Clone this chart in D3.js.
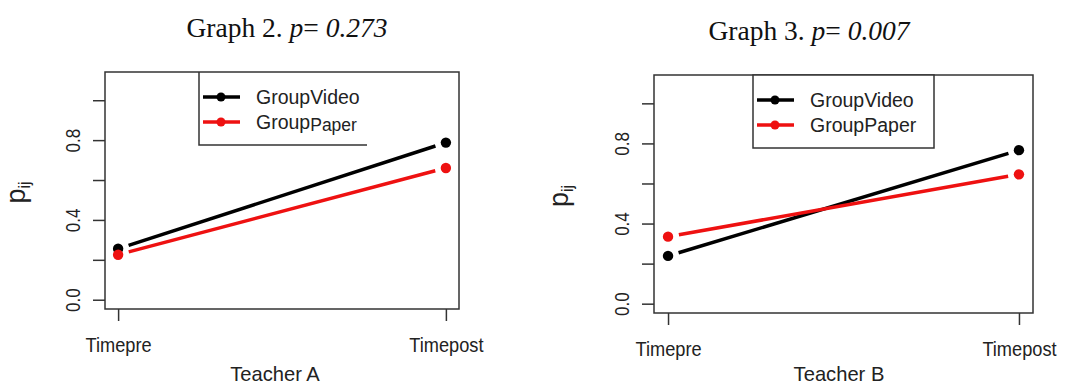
<!DOCTYPE html>
<html>
<head>
<meta charset="utf-8">
<script src="https://cdn.jsdelivr.net/npm/d3@7"></script>
<style>
  body { margin: 0; background: #fff; }
  svg { display: block; }
  .axis-text { font-family: "Liberation Sans", Arial, sans-serif; fill: #222; }
  .title { font-family: "Liberation Serif", "Times New Roman", serif; font-size: 27.5px; fill: #111; }
</style>
</head>
<body>
<div id="chart"></div>
<script>
// data
const timeLabels = ["Timepre", "Timepost"];
const groupNames = ["GroupVideo", "GroupPaper"];
const groupColors = ["#000000", "#ee1111"];
const teacherAVideo = [0.258, 0.790];
const teacherAPaper = [0.228, 0.663];
const teacherBVideo = [0.241, 0.769];
const teacherBPaper = [0.337, 0.648];
const yTicks = [0, 0.2, 0.4, 0.6, 0.8, 1.0];
const yLabelled = [0, 0.4, 0.8];
const titles = ["Graph 2.", "Graph 3."];
const pValues = ["0.273", "0.007"];
const teachers = ["Teacher A", "Teacher B"];

const W = 1075, H = 385;
const svg = d3.select('#chart').append('svg')
  .attr('width', W).attr('height', H);

// R's axis text is a bit narrower than Liberation Sans
function condense(sel, f) {
  sel.each(function() {
    const len = this.getComputedTextLength();
    if (len > 0) d3.select(this).attr('textLength', len * f).attr('lengthAdjust', 'spacingAndGlyphs');
  });
}

// panel layout (pixels)
const panels = [
  { left: 105, right: 459, top: 72, bottom: 309, titleX: 287, titleY: 37, xlabX: 275,
    ylabX: 25, legX: 199, legR: 367, legB: 145, fullLegend: false, shrinkPaper: true,
    series: [teacherAVideo, teacherAPaper] },
  { left: 654, right: 1033, top: 75, bottom: 313, titleX: 809, titleY: 40, xlabX: 839,
    ylabX: 568, legX: 753, legR: 934, legB: 148, fullLegend: true, shrinkPaper: false,
    series: [teacherBVideo, teacherBPaper] }
];

panels.forEach((p, i) => {
  const g = svg.append('g');

  // x: R style 4% padding around positions 1 and 2
  const x = d3.scaleLinear().domain([0.96, 2.04]).range([p.left, p.right]);
  const y = d3.scaleLinear().domain([-0.044, 1.144]).range([p.bottom, p.top]);

  // title
  const t = g.append('text').attr('class', 'title')
    .attr('x', p.titleX).attr('y', p.titleY).attr('text-anchor', 'middle');
  t.append('tspan').text(titles[i] + ' ');
  t.append('tspan').attr('font-style', 'italic').text('p');
  t.append('tspan').text('= ');
  t.append('tspan').attr('font-style', 'italic').text(pValues[i]);

  // y axis
  const yAxis = d3.axisLeft(y)
    .tickValues(yTicks)
    .tickSize(12)
    .tickFormat(d => yLabelled.indexOf(d) >= 0 ? d3.format('.1f')(d) : '');
  const ya = g.append('g').attr('transform', `translate(${p.left},0)`).call(yAxis);
  ya.select('.domain').remove();
  ya.selectAll('line').attr('stroke', '#333').attr('stroke-width', 1.5);
  ya.selectAll('.tick').attr('transform', null);
  ya.selectAll('.tick line').attr('transform', d => `translate(0,${y(d)})`);
  ya.selectAll('text')
    .attr('class', 'axis-text')
    .attr('font-size', 20)
    .attr('x', 0).attr('y', 0).attr('dy', 0)
    .attr('text-anchor', 'middle')
    .attr('transform', d => `translate(${-25},${y(d)}) rotate(-90)`)
    .call(condense, 0.85);

  // x axis
  const xAxis = d3.axisBottom(x)
    .tickValues([1, 2])
    .tickSize(12)
    .tickFormat((d, k) => timeLabels[k]);
  const xa = g.append('g').attr('transform', `translate(0,${p.bottom})`).call(xAxis);
  xa.select('.domain').remove();
  xa.selectAll('line').attr('stroke', '#333').attr('stroke-width', 1.5);
  xa.selectAll('text')
    .attr('class', 'axis-text')
    .attr('font-size', 20)
    .attr('dy', 0)
    .attr('y', 43)
    .call(condense, 0.91);

  // plot box
  g.append('rect')
    .attr('x', p.left).attr('y', p.top)
    .attr('width', p.right - p.left).attr('height', p.bottom - p.top)
    .attr('fill', 'none').attr('stroke', '#333').attr('stroke-width', 1.5);

  // axis titles
  g.append('text').attr('class', 'axis-text')
    .attr('x', p.xlabX).attr('y', 381)
    .attr('text-anchor', 'middle').attr('font-size', 21)
    .text(teachers[i])
    .call(condense, 0.96);

  const yl = g.append('text').attr('class', 'axis-text')
    .attr('transform', `translate(${p.ylabX},${(p.top + p.bottom) / 2 + 2}) rotate(-90)`)
    .attr('text-anchor', 'middle').attr('font-size', 27);
  yl.append('tspan').text('p');
  yl.append('tspan').attr('font-size', 16).attr('dy', 5).text('ij');

  // series: lines with gaps around points (R type = "b")
  const gap = 11;
  p.series.forEach((vals, s) => {
    const pts = vals.map((v, k) => [x(k + 1), y(v)]);
    for (let k = 0; k < pts.length - 1; k++) {
      const [x0, y0] = pts[k], [x1, y1] = pts[k + 1];
      const len = Math.hypot(x1 - x0, y1 - y0);
      const ux = (x1 - x0) / len, uy = (y1 - y0) / len;
      g.append('line')
        .attr('x1', x0 + ux * gap).attr('y1', y0 + uy * gap)
        .attr('x2', x1 - ux * gap).attr('y2', y1 - uy * gap)
        .attr('stroke', groupColors[s]).attr('stroke-width', 3.5);
    }
    g.selectAll(null).data(pts).enter().append('circle')
      .attr('cx', d => d[0]).attr('cy', d => d[1]).attr('r', 5.2)
      .attr('fill', groupColors[s]);
  });

  // legend
  const lg = g.append('g');
  if (p.fullLegend) {
    lg.append('rect')
      .attr('x', p.legX).attr('y', p.top)
      .attr('width', p.legR - p.legX).attr('height', p.legB - p.top)
      .attr('fill', '#fff').attr('stroke', '#333').attr('stroke-width', 1.5);
  } else {
    lg.append('path')
      .attr('d', `M${p.legX},${p.top}V${p.legB}H${p.legR}`)
      .attr('fill', 'none').attr('stroke', '#333').attr('stroke-width', 1.5);
  }
  groupNames.forEach((name, s) => {
    const ly = p.top + 25 + s * 25;
    lg.append('line')
      .attr('x1', p.legX + 4).attr('x2', p.legX + 41)
      .attr('y1', ly).attr('y2', ly)
      .attr('stroke', groupColors[s]).attr('stroke-width', 3.5);
    lg.append('circle')
      .attr('cx', p.legX + 22).attr('cy', ly).attr('r', 4.5)
      .attr('fill', groupColors[s]);
    const lt = lg.append('text').attr('class', 'axis-text')
      .attr('x', p.legX + 57).attr('y', ly + 7).attr('font-size', 19.5);
    if (p.shrinkPaper && name === 'GroupPaper') {
      lt.append('tspan').text('Group');
      lt.append('tspan').attr('font-size', 17.5).attr('dy', 2).text('Paper');
    } else {
      lt.text(name);
    }
  });
});
</script>
</body>
</html>
